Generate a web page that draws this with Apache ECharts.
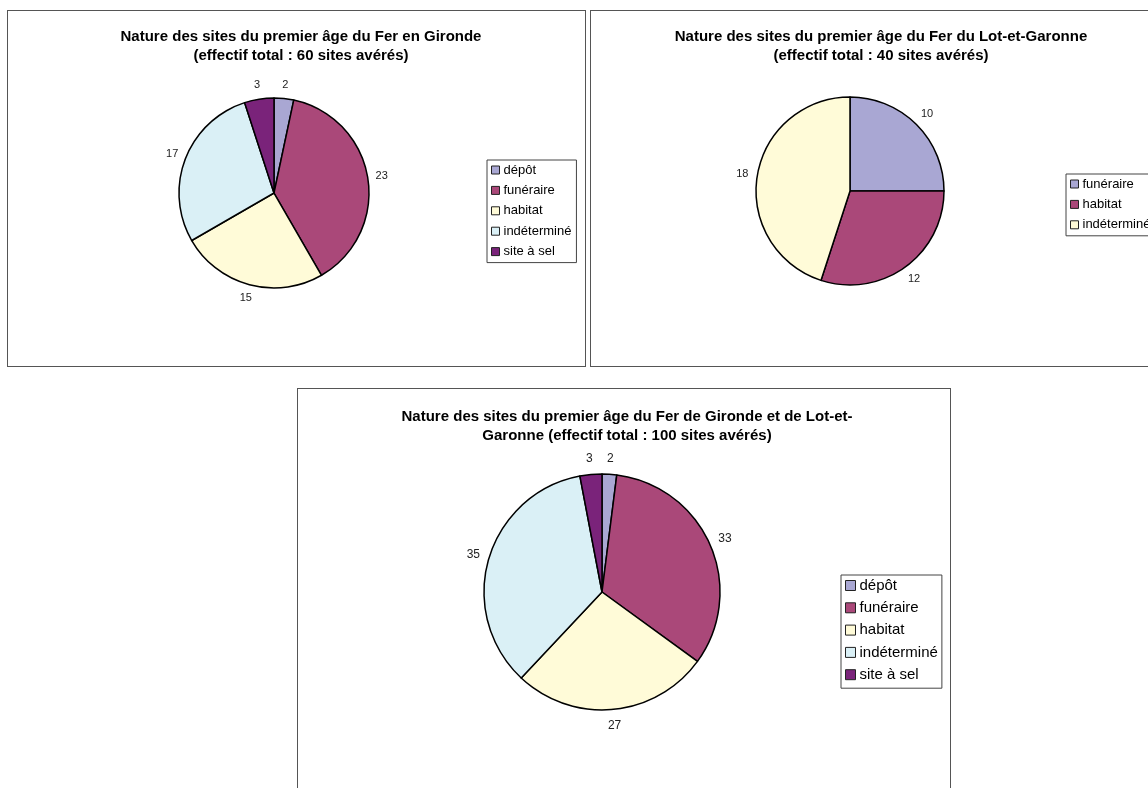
<!DOCTYPE html>
<html>
<head>
<meta charset="utf-8">
<script src="https://cdn.jsdelivr.net/npm/echarts@6/dist/echarts.min.js"></script>
<style>
html,body{margin:0;padding:0;width:1148px;height:788px;overflow:hidden;background:#fff;}
.panel{position:absolute;border:1px solid #555;box-sizing:border-box;background:#fff;}
</style>
</head>
<body>
<div id="c1" class="panel" style="left:7px;top:10px;width:579px;height:357px;"></div>
<div id="c2" class="panel" style="left:590px;top:10px;width:600px;height:357px;"></div>
<div id="c3" class="panel" style="left:297px;top:388px;width:654px;height:430px;"></div>
<script>
// ---- data ----
const titleGironde = "Nature des sites du premier âge du Fer en Gironde\n(effectif total : 60 sites avérés)";
const catsGironde = ["dépôt", "funéraire", "habitat", "indéterminé", "site à sel"];
const valsGironde = [2, 23, 15, 17, 3];

const titleLot = "Nature des sites du premier âge du Fer du Lot-et-Garonne\n(effectif total : 40 sites avérés)";
const catsLot = ["funéraire", "habitat", "indéterminé"];
const valsLot = [10, 12, 18];

const titleTotal = "Nature des sites du premier âge du Fer de Gironde et de Lot-et-\nGaronne (effectif total : 100 sites avérés)";
const catsTotal = ["dépôt", "funéraire", "habitat", "indéterminé", "site à sel"];
const valsTotal = [2, 33, 27, 35, 3];

const palette5 = ["#A9A7D3", "#AA4879", "#FFFBD8", "#DAF0F6", "#7A237A"];
const palette3 = ["#A9A7D3", "#AA4879", "#FFFBD8"];

const FONT = "'Liberation Sans', Arial, sans-serif";

function build(el, cfg) {
  const chart = echarts.init(document.getElementById(el), null, {renderer: 'canvas'});
  const data = cfg.cats.map((c, i) => ({name: c, value: cfg.vals[i], itemStyle: {color: cfg.colors[i]}}));
  const legendData = cfg.cats.map((c, i) => ({name: c, itemStyle: {color: cfg.colors[i], borderColor: '#222', borderWidth: 1}}));
  chart.setOption({
    animation: false,
    title: {
      text: cfg.title,
      left: cfg.titleX, top: cfg.titleY, textAlign: 'center',
      textStyle: {fontFamily: FONT, fontSize: 15, fontWeight: 'bold', color: '#000', lineHeight: 19.5}
    },
    legend: {
      orient: 'vertical',
      left: cfg.legX, top: cfg.legY,
      data: legendData,
      icon: 'rect',
      itemWidth: cfg.sw, itemHeight: cfg.sw,
      itemGap: cfg.legGap,
      padding: cfg.legPad,
      borderColor: '#444', borderWidth: 1,
      selectedMode: false,
      textStyle: {fontFamily: FONT, fontSize: cfg.legFont, color: '#000', padding: [0,0,0,-1], lineHeight: cfg.legLH}
    },
    series: [
      {
        type: 'pie',
        center: cfg.center, radius: cfg.r,
        startAngle: 90, clockwise: true,
        data: data,
        label: {show: false}, labelLine: {show: false},
        itemStyle: {borderColor: '#000', borderWidth: 1.5},
        emphasis: {disabled: true}
      },
      {
        type: 'pie',
        center: cfg.center, radius: [cfg.r + cfg.lo, cfg.r + cfg.lo + 14],
        startAngle: 90, clockwise: true,
        silent: true,
        avoidLabelOverlap: false,
        data: cfg.cats.map((c, i) => ({name: c, value: cfg.vals[i]})),
        itemStyle: {color: 'rgba(0,0,0,0)', borderWidth: 0},
        label: {show: true, position: 'inside', formatter: '{c}', fontFamily: FONT, fontSize: cfg.labFont, color: '#222'},
        labelLine: {show: false},
        emphasis: {disabled: true}
      }
    ]
  });
}

build('c1', {title: titleGironde, cats: catsGironde, vals: valsGironde, colors: palette5,
  titleX: 288, titleY: 11, center: [266, 182], r: 95, lo: 4, labFont: 11,
  legX: 479, legY: 149, sw: 8, legGap: 6.4, legPad: [3, 5, 4, 4], legFont: 13, legLH: 14});
build('c2', {title: titleLot, cats: catsLot, vals: valsLot, colors: palette3,
  titleX: 285, titleY: 11, center: [259, 180], r: 94, lo: 5, labFont: 11,
  legX: 475, legY: 163, sw: 8, legGap: 6.4, legPad: [3, 5, 4, 4], legFont: 13, legLH: 14});
build('c3', {title: titleTotal, cats: catsTotal, vals: valsTotal, colors: palette5,
  titleX: 324, titleY: 13, center: [304, 203], r: 118, lo: 6, labFont: 12,
  legX: 543, legY: 186, sw: 10, legGap: 5.3, legPad: [2, 4, 5, 4], legFont: 15, legLH: 17});
</script>
</body>
</html>
